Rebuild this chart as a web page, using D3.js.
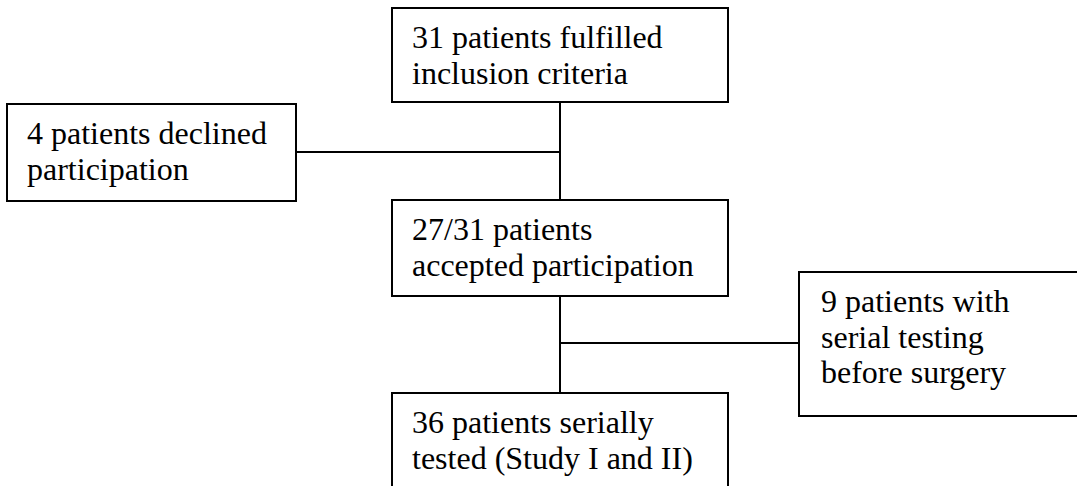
<!DOCTYPE html>
<html>
<head>
<meta charset="utf-8">
<script src="https://cdn.jsdelivr.net/npm/d3@7"></script>
<style>
  html, body { margin: 0; padding: 0; background: #fff; }
  svg { display: block; }
  svg text { font-family: "Liberation Serif", "Times New Roman", Times, "DejaVu Serif", serif; }
</style>
</head>
<body>
<svg id="chart" width="1077" height="486"></svg>
<script>
// ---- Data (flowchart content) ----
const nodeIds = ["included", "declined", "accepted", "serialBefore", "tested"];
const nodeLines = [
  ["31 patients fulfilled", "inclusion criteria"],
  ["4 patients declined", "participation"],
  ["27/31 patients", "accepted participation"],
  ["9 patients with", "serial testing", "before surgery"],
  ["36 patients serially", "tested (Study I and II)"]
];
const edgeList = [
  ["included", "accepted"],
  ["declined", "included-accepted"],
  ["accepted", "tested"],
  ["serialBefore", "accepted-tested"]
];

// ---- Layout (separate from data) ----
const layout = {
  included:     { x: 392, y: 8,   w: 336, h: 94 },
  declined:     { x: 7,   y: 104, w: 289, h: 97 },
  accepted:     { x: 392, y: 200, w: 336, h: 96 },
  serialBefore: { x: 799, y: 272, w: 300, h: 144 },
  tested:       { x: 392, y: 393, w: 336, h: 120 }
};
const fontSize = 32, lineH = 35.5, padX = 20, firstBase = 40;

const svg = d3.select("#chart");
const trunkX = 560;

const lines = [
  { x1: trunkX, y1: layout.included.y + layout.included.h, x2: trunkX, y2: layout.accepted.y },
  { x1: trunkX, y1: layout.accepted.y + layout.accepted.h, x2: trunkX, y2: layout.tested.y },
  { x1: layout.declined.x + layout.declined.w, y1: 152, x2: trunkX, y2: 152 },
  { x1: trunkX, y1: 343, x2: layout.serialBefore.x, y2: 343 }
];
svg.selectAll("line.edge").data(lines).join("line")
  .attr("class", "edge")
  .attr("x1", d => d.x1).attr("y1", d => d.y1)
  .attr("x2", d => d.x2).attr("y2", d => d.y2)
  .attr("stroke", "#000").attr("stroke-width", 2);

const nodes = nodeIds.map((id, i) => ({ id, lines: nodeLines[i], ...layout[id] }));

const g = svg.selectAll("g.node").data(nodes).join("g").attr("class", "node");
g.append("rect")
  .attr("x", d => d.x).attr("y", d => d.y)
  .attr("width", d => d.w).attr("height", d => d.h)
  .attr("fill", "#fff").attr("stroke", "#000").attr("stroke-width", 2);
g.append("text")
  .style("font-family", '"Liberation Serif", "Times New Roman", Times, "DejaVu Serif", serif')
  .style("font-size", fontSize + "px")
  .attr("fill", "#000")
  .selectAll("tspan").data(d => d.lines.map((t, k) => ({ t, k, d }))).join("tspan")
  .attr("x", o => o.d.x + padX + (o.d.id === "serialBefore" ? 2 : 0))
  .attr("y", o => o.d.y + firstBase + o.k * lineH)
  .text(o => o.t);
</script>
</body>
</html>
